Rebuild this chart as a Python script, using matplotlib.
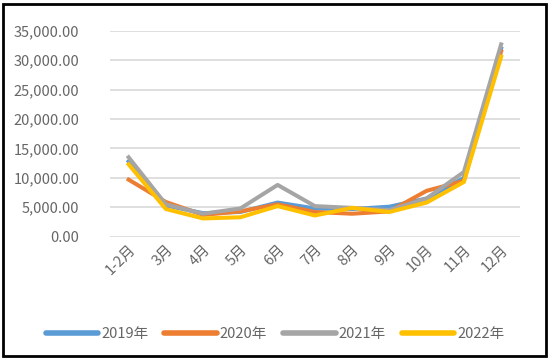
import matplotlib

matplotlib.use("Agg")
import matplotlib.pyplot as plt
from matplotlib.patches import Rectangle
from matplotlib.ticker import FuncFormatter

plt.rcParams["font.family"] = ["Noto Sans CJK SC", "DejaVu Sans"]

MONTHS = ["1-2月", "3月", "4月", "5月", "6月", "7月", "8月", "9月", "10月", "11月", "12月"]
Y2019 = [12800, 5300, 4000, 4200, 5800, 4800, 4700, 5100, 6500, 10000, 32000]
Y2020 = [9700, 5900, 3700, 4300, 5500, 4200, 3900, 4300, 7800, 9500, 31500]
Y2021 = [13500, 5500, 3900, 4800, 8800, 5200, 4900, 4500, 6500, 11000, 32700]
Y2022 = [12300, 4700, 3100, 3300, 5200, 3600, 4900, 4200, 5800, 9300, 30600]

SERIES = [
    ("2019年", Y2019, "#5B9BD5"),
    ("2020年", Y2020, "#ED7D31"),
    ("2021年", Y2021, "#A5A5A5"),
    ("2022年", Y2022, "#FFC000"),
]
TEXT_GREY = "#666666"

fig = plt.figure(figsize=(5.5, 3.63), dpi=100)
ax = fig.add_axes([0.2, 0.348, 0.745, 0.567])

x = range(len(MONTHS))
for name, values, color in SERIES:
    ax.plot(x, values, color=color, lw=2.9, label=name, solid_joinstyle="round")

ax.set_xlim(-0.5, len(MONTHS) - 0.5)
ax.set_ylim(0, 35000)
ax.set_yticks(range(0, 35001, 5000))
ax.yaxis.set_major_formatter(FuncFormatter(lambda v, _: f"{v:,.2f}"))
ax.set_xticks(list(x))
ax.set_xticklabels(MONTHS, rotation=45, ha="right", rotation_mode="anchor")
ax.tick_params(axis="both", length=0, colors=TEXT_GREY, labelsize=10.5)
ax.tick_params(axis="y", pad=22)
ax.tick_params(axis="x", pad=4)
ax.grid(axis="y", color="#D9D9D9", lw=1.2)
ax.set_axisbelow(True)
for spine in ax.spines.values():
    spine.set_visible(False)

leg = fig.legend(
    loc="center",
    bbox_to_anchor=(0.5, 0.08),
    ncol=4,
    frameon=False,
    fontsize=10.5,
    handlelength=3.6,
    handletextpad=0.2,
    columnspacing=1.1,
)
for line in leg.get_lines():
    line.set_linewidth(4)
    line.set_solid_capstyle("round")
for t in leg.get_texts():
    t.set_color(TEXT_GREY)

fig.patches.append(
    Rectangle((0.006, 0.018), 0.986, 0.97, transform=fig.transFigure,
              fill=False, edgecolor="black", lw=2)
)

fig.savefig("out.png", dpi=100)
